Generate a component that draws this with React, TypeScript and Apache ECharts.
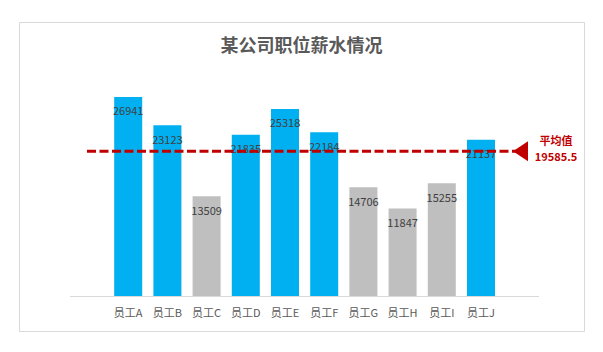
import React, { useEffect, useRef } from "react";
import * as echarts from "echarts";

const titleText = "某公司职位薪水情况";
const categories = ["员工A", "员工B", "员工C", "员工D", "员工E", "员工F", "员工G", "员工H", "员工I", "员工J"];
const salaries = [26941, 23123, 13509, 21835, 25318, 22184, 14706, 11847, 15255, 21137];
const avgLabel = "平均值";
const yMax = 30000;

const FONT = "'Noto Sans CJK SC', 'Noto Sans', sans-serif";

export default function App() {
  const ref = useRef<HTMLDivElement>(null);
  useEffect(() => {
    if (!ref.current) return;
    const chart = echarts.init(ref.current, undefined, { renderer: "svg" });
    const avg = salaries.reduce((a, b) => a + b, 0) / salaries.length;
    const avgText = avg.toFixed(1);
    const gridTop = 74.4;
    const gridBottom = 352 - 296;
    chart.setOption({
      animation: false,
      backgroundColor: "#ffffff",
      textStyle: { fontFamily: FONT },
      title: {
        text: titleText,
        left: "center",
        top: 30,
        textStyle: { fontSize: 18, fontWeight: "bold", color: "#595959", fontFamily: FONT },
      },
      graphic: [
        {
          type: "rect",
          shape: { x: 19.5, y: 22.5, width: 565, height: 309 },
          style: { fill: "none", stroke: "#D9D9D9", lineWidth: 1 },
          z: -1,
        },
        {
          type: "line",
          shape: { x1: 70, y1: 296.5, x2: 539, y2: 296.5 },
          style: { stroke: "#D9D9D9", lineWidth: 1 },
          z: 1,
        },
      ],
      grid: [
        { left: 108.6, width: 392, top: gridTop, bottom: gridBottom },
        { left: 87, width: 433.5, top: gridTop, bottom: gridBottom },
      ],
      xAxis: [
        {
          type: "category",
          gridIndex: 0,
          data: categories,
          axisLine: { show: false },
          axisTick: { show: false },
          axisLabel: { color: "#595959", fontSize: 11, margin: 10, fontFamily: FONT },
        },
        { type: "value", gridIndex: 1, min: 0, max: 1, show: false },
      ],
      yAxis: [
        { type: "value", gridIndex: 0, min: 0, max: yMax, show: false, splitLine: { show: false } },
        { type: "value", gridIndex: 1, min: 0, max: yMax, show: false, splitLine: { show: false } },
      ],
      series: [
        {
          type: "bar",
          xAxisIndex: 0,
          yAxisIndex: 0,
          barWidth: 28,
          data: salaries.map((v) => ({
            value: v,
            itemStyle: { color: v >= avg ? "#00B0F0" : "#BFBFBF" },
          })),
          label: {
            show: true,
            position: "insideTop",
            distance: 8,
            color: "#404040",
            fontSize: 11,
            fontFamily: FONT,
          },
          z: 2,
        },
        {
          type: "line",
          xAxisIndex: 1,
          yAxisIndex: 1,
          data: [
            { value: [0, avg], symbol: "none" },
            {
              value: [1, avg],
              symbol: "triangle",
              symbolSize: [20, 15],
              symbolRotate: 90,
              itemStyle: { color: "#C00000" },
              label: {
                show: true,
                position: "right",
                distance: 7,
                align: "center",
                offset: [21, -3],
                formatter: () => avgLabel + "\n" + avgText,
                color: "#C00000",
                fontSize: 11,
                fontWeight: "bold",
                lineHeight: 16,
                fontFamily: FONT,
              },
            },
          ],
          showSymbol: true,
          lineStyle: { color: "#C00000", width: 3, type: [9, 3.5] },
          itemStyle: { color: "#C00000" },
          z: 3,
        },
      ],
    });
    return () => chart.dispose();
  }, []);
  return (
    <div
      ref={ref}
      style={{ position: "fixed", left: 0, top: 0, width: 603, height: 352, background: "#fff" }}
    />
  );
}
